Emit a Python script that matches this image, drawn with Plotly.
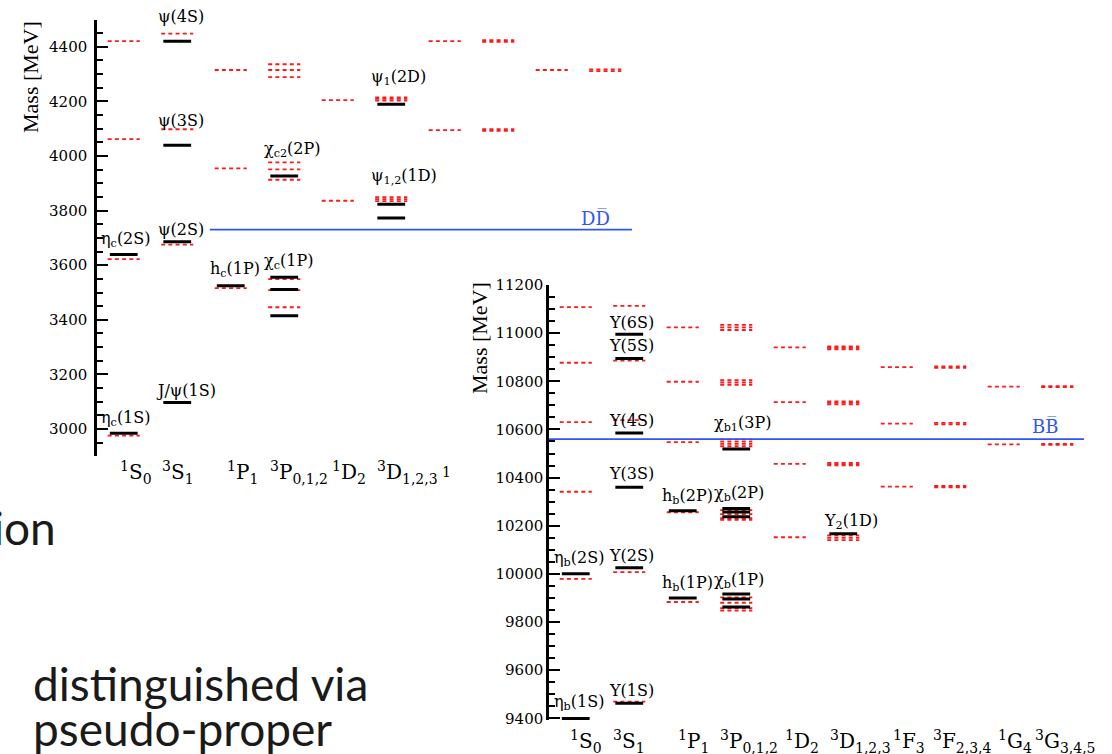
import plotly.graph_objects as go

W, H = 1112, 754

# ---------------- data ----------------
wave_labels = ["<sup>1</sup>S<sub>0</sub>", "<sup>3</sup>S<sub>1</sub>", "<sup>1</sup>P<sub>1</sub>",
               "<sup>3</sup>P<sub>0,1,2</sub>", "<sup>1</sup>D<sub>2</sub>", "<sup>3</sup>D<sub>1,2,3</sub>",
               "<sup>1</sup>F<sub>3</sub>", "<sup>3</sup>F<sub>2,3,4</sub>", "<sup>1</sup>G<sub>4</sub>",
               "<sup>3</sup>G<sub>3,4,5</sub>"]

# charmonium: model (red dashed) levels, column index (1..10) and mass [MeV]
cc_model_col = [1, 1, 1, 1,
                2, 2, 2,
                3, 3, 3,
                4, 4, 4, 4, 4, 4, 4, 4, 4,
                5, 5,
                6, 6, 6, 6, 6, 6,
                7, 7,
                8, 8, 8, 8,
                9,
                10, 10]
cc_model_mass = [2976, 3622, 4062, 4421,
                 3675, 4098, 4448,
                 3516, 3955, 4315,
                 3446, 3509, 3549, 3913, 3951, 3977, 4289, 4315, 4336,
                 3836, 4205,
                 3835, 3842, 3849, 4203, 4209, 4215,
                 4095, 4421,
                 4092, 4098, 4418, 4424,
                 4315,
                 4311, 4317]
# charmonium: experimental (black) levels
cc_exp_col = [1, 1, 2, 2, 2, 2, 3, 4, 4, 4, 4, 6, 6, 6]
cc_exp_mass = [2984, 3639, 3097, 3686, 4039, 4420, 3525, 3415, 3511, 3556, 3927, 3773, 3823, 4190]
cc_threshold = [3730]
cc_threshold_label = "DD\u0305"
cc_state_text = ["ψ(4S)", "ψ(3S)", "ψ(2S)", "η<sub>c</sub>(2S)", "χ<sub>c2</sub>(2P)", "ψ<sub>1</sub>(2D)",
                 "ψ<sub>1,2</sub>(1D)", "h<sub>c</sub>(1P)", "χ<sub>c</sub>(1P)", "J/ψ(1S)", "η<sub>c</sub>(1S)"]

# bottomonium: model (red dashed) levels
bb_model_col = [1, 1, 1, 1, 1,
                2, 2, 2, 2, 2,
                3, 3, 3, 3, 3,
                4, 4, 4, 4, 4, 4, 4, 4, 4, 4, 4, 4, 4, 4, 4, 4, 4, 4,
                5, 5, 5, 5,
                6, 6, 6, 6, 6, 6, 6, 6, 6, 6, 6, 6,
                7, 7, 7,
                8, 8, 8, 8, 8, 8,
                9, 9,
                10, 10, 10, 10]
bb_model_mass = [9979, 10341, 10630, 10877, 11108,
                 9469, 10007, 10639, 10886, 11113,
                 9883, 10256, 10547, 10798, 11024,
                 9847, 9857, 9880, 9902, 10224, 10231, 10248, 10265, 10530, 10540, 10549, 10559,
                 10785, 10795, 10805, 11013, 11024, 11034,
                 10152, 10457, 10713, 10941,
                 10140, 10150, 10160, 10451, 10456, 10461, 10704, 10710, 10716, 10933, 10939, 10945,
                 10362, 10624, 10859,
                 10359, 10365, 10621, 10627, 10856, 10862,
                 10538, 10778,
                 10536, 10540, 10776, 10780]
# bottomonium: experimental (black) levels
bb_exp_col = [1, 1, 2, 2, 2, 2, 2, 2, 3, 3, 4, 4, 4, 4, 4, 4, 4, 6]
bb_exp_mass = [9399, 10000, 9462, 10025, 10360, 10585, 10895, 10995, 9900, 10262,
               9862, 9896, 9916, 10237, 10257, 10272, 10519, 10167]
bb_threshold = [10560]
bb_threshold_label = "BB\u0305"
bb_state_text = ["Υ(6S)", "Υ(5S)", "Υ(4S)", "χ<sub>b1</sub>(3P)", "Υ(3S)", "h<sub>b</sub>(2P)",
                 "χ<sub>b</sub>(2P)", "Υ<sub>2</sub>(1D)", "η<sub>b</sub>(2S)", "Υ(2S)", "h<sub>b</sub>(1P)",
                 "χ<sub>b</sub>(1P)", "η<sub>b</sub>(1S)", "Υ(1S)"]

slide_text = ["ion", "distinguished via", "pseudo-proper"]

# ---------------- style / layout ----------------
RED = "#ff1a1a"
BLUE = "#2f55f5"
SERIF = "Liberation Serif"
WSERIF = "DejaVu Serif"
RED_HW = 0.30
BLK_HW = 0.26


def segs(cols, masses, hw):
    xs, ys = [], []
    for c, m in zip(cols, masses):
        xs += [c - hw, c + hw, None]
        ys += [m, m, None]
    return xs, ys


def px(x):
    return x / W


def py(y):
    return 1 - y / H


fig = go.Figure()

for (mc, mm, ec, em, thr, thr_x, xa, ya) in [
    (cc_model_col, cc_model_mass, cc_exp_col, cc_exp_mass, cc_threshold, (2.61, 10.5), "x", "y"),
    (bb_model_col, bb_model_mass, bb_exp_col, bb_exp_mass, bb_threshold, (0.5, 10.5), "x2", "y2"),
]:
    xs, ys = segs(mc, mm, RED_HW)
    fig.add_trace(go.Scatter(x=xs, y=ys, mode="lines", xaxis=xa, yaxis=ya,
                             line=dict(color=RED, width=1.8, dash="4px,3.2px"),
                             hoverinfo="skip", showlegend=False))
    fig.add_trace(go.Scatter(x=[thr_x[0], thr_x[1]], y=[thr[0], thr[0]], mode="lines", xaxis=xa, yaxis=ya,
                             line=dict(color=BLUE, width=1.8), hoverinfo="skip", showlegend=False))
    xs, ys = segs(ec, em, BLK_HW)
    fig.add_trace(go.Scatter(x=xs, y=ys, mode="lines", xaxis=xa, yaxis=ya,
                             line=dict(color="black", width=3), hoverinfo="skip", showlegend=False))

yax_common = dict(showline=True, linecolor="black", linewidth=2.5, showgrid=False, zeroline=False,
                  ticks="inside", ticklen=11, tickwidth=2, tickcolor="black", dtick=200, tick0=0,
                  tickformat="d", automargin=False,
                  minor=dict(ticks="inside", ticklen=6, tickwidth=1.5, tickcolor="black", dtick=50, tick0=0,
                             showgrid=False),
                  tickfont=dict(family=WSERIF, size=15, color="black"), fixedrange=True)

cc_lo, cc_hi = 2900, 4500
bb_lo, bb_hi = 9392, 11200
fig.update_layout(
    width=W, height=H, margin=dict(l=0, r=0, t=0, b=0, pad=0, autoexpand=False),
    paper_bgcolor="white", plot_bgcolor="rgba(0,0,0,0)", showlegend=False,
    xaxis=dict(domain=[px(97), px(648)], range=[0.5, 10.8], visible=False, anchor="y",
               fixedrange=True, automargin=False),
    yaxis=dict(domain=[py(456.3), py(19.5)], range=[cc_lo, cc_hi], anchor="x", ticklabelstandoff=4, **yax_common),
    xaxis2=dict(domain=[px(549), px(1110.75)], range=[0.5, 11.0], visible=False, anchor="y2",
                fixedrange=True, automargin=False),
    yaxis2=dict(domain=[py(720.2), py(285)], range=[bb_lo, bb_hi], anchor="x2", **yax_common),
)

ann = []


def label(text, x, y, size=16, color="black", family=WSERIF, xanchor="left", yanchor="middle", angle=0):
    ann.append(dict(text=text, x=px(x), y=py(y), xref="paper", yref="paper", showarrow=False,
                    xanchor=xanchor, yanchor=yanchor, textangle=angle,
                    font=dict(family=family, size=size, color=color)))


# axis titles
label("Mass [MeV]", 30, 77, size=22, family=SERIF, xanchor="center", angle=-90)
label("Mass [MeV]", 479, 338, size=22, family=SERIF, xanchor="center", angle=-90)

# charmonium state labels
cc_pos = [(156, 16), (156, 120), (156, 229), (99, 239), (262, 150), (369, 77), (369, 177),
          (208, 270), (262, 262), (154, 390), (99, 418)]
for t, (x, y) in zip(cc_state_text, cc_pos):
    label(t, x, y)
label(cc_threshold_label, 579, 218, size=18, color=BLUE)

# bottomonium state labels
bb_pos = [(607, 323), (607, 345), (607, 420), (712, 423), (607, 473), (660, 496), (712, 493),
          (822, 521), (552, 558), (607, 555), (660, 583), (712, 580), (552, 702), (607, 690)]
for t, (x, y) in zip(bb_state_text, bb_pos):
    label(t, x, y)
label(bb_threshold_label, 1030, 426, size=18, color=BLUE)

# wave labels under the charmonium panel (the rest are hidden by the bottomonium panel)
cc_wave_x = [118, 160, 225, 268, 330, 375]
for t, x in zip(wave_labels[:6], cc_wave_x):
    label(t, x, 472, size=20)
label("<sup>1</sup>", 440, 472, size=20)

# wave labels under the bottomonium panel
bb_wave_x = [568, 611, 676, 718, 783, 828, 891, 931, 996, 1033]
for t, x in zip(wave_labels, bb_wave_x):
    label(t, x, 741, size=20)

# slide text behind the figures
label(slide_text[0], 58, 527, size=46, color="#1a1a1a", family="Lato", xanchor="right")
label(slide_text[1], 31, 683, size=46, color="#1a1a1a", family="Lato")
label(slide_text[2], 31, 728, size=46, color="#1a1a1a", family="Lato")

fig.update_layout(annotations=ann)
fig.write_html("out.html")
